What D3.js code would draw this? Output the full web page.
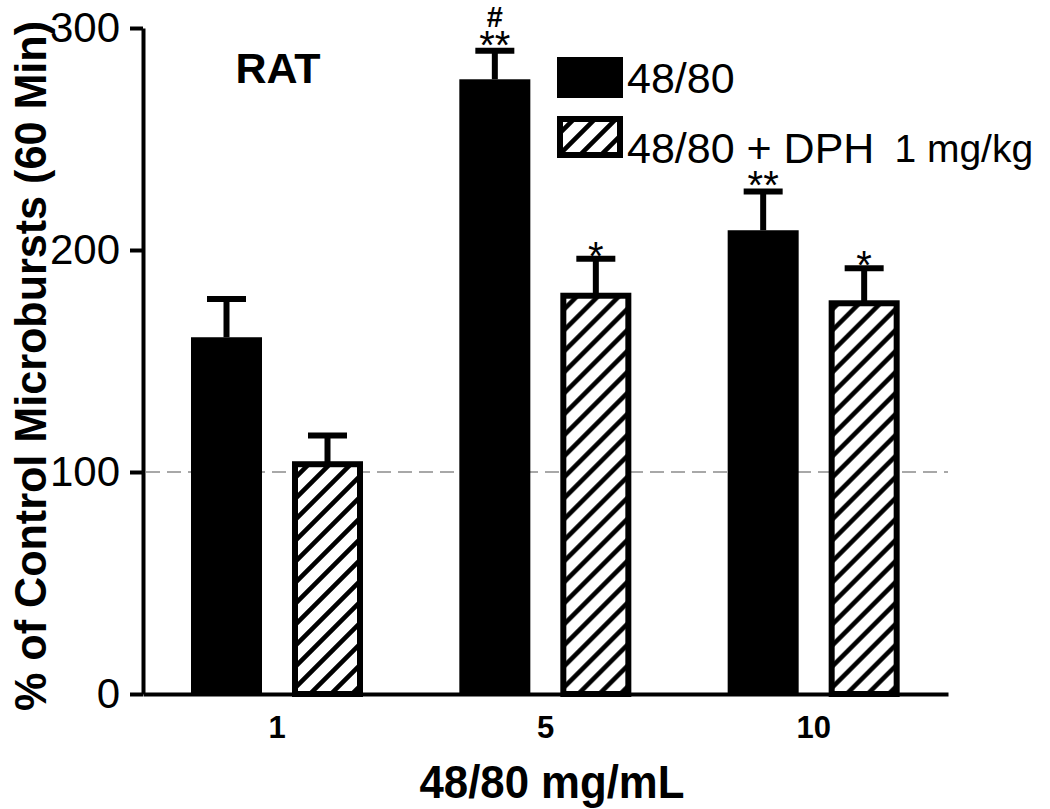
<!DOCTYPE html>
<html>
<head>
<meta charset="utf-8">
<script src="https://cdn.jsdelivr.net/npm/d3@7"></script>
<style>
  html, body { margin: 0; padding: 0; background: #fff; }
  svg { display: block; }
  text { font-family: "Liberation Sans", Arial, sans-serif; fill: #000; }
</style>
</head>
<body>
<svg id="chart" width="1050" height="809"></svg>
<script>
// ---- data ----
const categories = ["1", "5", "10"];
const seriesNames = ["48/80", "48/80 + DPH"];
const doseNote = "1 mg/kg";
const values4880 = [160.7, 276.9, 208.9];
const errors4880 = [177.9, 289.8, 226.4];
const valuesDPH = [103.5, 179.4, 176.0];
const errorsDPH = [116.4, 196.1, 191.8];
const signif4880 = ["", "**", "**"];
const hash4880 = ["", "#", ""];
const signifDPH = ["", "*", "*"];
const yTicks = [0, 100, 200, 300];
const refValue = 100;

const svg = d3.select("#chart");

// hatch pattern
const defs = svg.append("defs");
const pat = defs.append("pattern")
  .attr("id", "hatch")
  .attr("patternUnits", "userSpaceOnUse")
  .attr("width", 21).attr("height", 21);
pat.append("rect").attr("width", 21).attr("height", 21).attr("fill", "#fff");
pat.append("path")
  .attr("d", "M-5,5 L5,-5 M0,21 L21,0 M16,26 L26,16")
  .attr("stroke", "#000").attr("stroke-width", 4.6);

const y = d3.scaleLinear().domain([0, 300]).range([694, 28]);
const x = d3.scaleBand().domain(categories).range([143, 948]).padding(0);
const xs = d3.scaleBand().domain(seriesNames).range([48, 220]).paddingInner(0.297).paddingOuter(0);

// reference line
svg.append("line")
  .attr("x1", 146).attr("x2", 948)
  .attr("y1", y(refValue)).attr("y2", y(refValue))
  .attr("stroke", "#a8a8a8").attr("stroke-width", 2)
  .attr("stroke-dasharray", "14,7");

const rows = categories.map((c, i) => ({
  cat: c,
  v1: values4880[i], e1: errors4880[i], s1: signif4880[i], h1: hash4880[i],
  v2: valuesDPH[i], e2: errorsDPH[i], s2: signifDPH[i]
}));

const bw = xs.bandwidth();
const capHalf = 19.5;
const sw = 6;

const g = svg.append("g").selectAll("g").data(rows).join("g")
  .attr("transform", d => `translate(${x(d.cat)},0)`);

function errBar(sel, cx, top, val) {
  sel.append("line").attr("x1", cx).attr("x2", cx)
    .attr("y1", top).attr("y2", y(val))
    .attr("stroke", "#000").attr("stroke-width", sw);
  sel.append("line").attr("x1", cx - capHalf).attr("x2", cx + capHalf)
    .attr("y1", top).attr("y2", top)
    .attr("stroke", "#000").attr("stroke-width", sw);
}
g.each(function(d) {
  const s = d3.select(this);
  const c1 = xs("48/80") + bw / 2;
  const c2 = xs("48/80 + DPH") + bw / 2;
  errBar(s, c1, y(d.e1), d.v1);
  errBar(s, c2, y(d.e2), d.v2);
});

g.append("rect")
  .attr("x", xs("48/80"))
  .attr("width", bw)
  .attr("y", d => y(d.v1))
  .attr("height", d => y(0) - y(d.v1))
  .attr("fill", "#000");

g.append("rect")
  .attr("x", xs("48/80 + DPH") + sw / 2)
  .attr("width", bw - sw)
  .attr("y", d => y(d.v2))
  .attr("height", d => y(0) - y(d.v2))
  .attr("fill", "url(#hatch)")
  .attr("stroke", "#000").attr("stroke-width", sw);

// significance markers (hash line above the asterisks, in one text block)
const sig1 = g.append("text")
  .attr("text-anchor", "middle");
sig1.each(function(d) {
  const t = d3.select(this);
  const cx = xs("48/80") + bw / 2;
  if (d.h1) {
    t.append("tspan").attr("x", cx).attr("y", y(d.e1) - 24)
      .style("font-size", "29px").style("font-weight", "bold").text(d.h1);
  }
  t.append("tspan").attr("x", cx).attr("y", y(d.e1) + 8)
    .style("font-size", "40px").text(d.s1);
});
g.append("text")
  .attr("x", xs("48/80 + DPH") + bw / 2)
  .attr("y", d => y(d.e2) + 11)
  .attr("text-anchor", "middle")
  .style("font-size", "40px")
  .text(d => d.s2);

// axes
const yAxis = d3.axisLeft(y).tickValues(yTicks).tickSize(13).tickSizeOuter(0).tickPadding(10);
const yg = svg.append("g").attr("transform", "translate(143,0)").call(yAxis);
yg.select(".domain").attr("stroke-width", 4).attr("stroke", "#000");
yg.selectAll(".tick line").attr("stroke-width", 4).attr("stroke", "#000");
yg.selectAll(".tick text").style("font-size", "42px").style("font-family", "Liberation Sans, Arial, sans-serif");

const xAxis = d3.axisBottom(x).tickSize(0).tickSizeOuter(0).tickPadding(22);
const xg = svg.append("g").attr("transform", `translate(0,${y(0)})`).call(xAxis);
xg.select(".domain").attr("stroke-width", 4).attr("stroke", "#000");
xg.selectAll(".tick text").style("font-size", "31px").style("font-weight", "bold")
  .style("font-family", "Liberation Sans, Arial, sans-serif");

// axis titles
svg.append("text")
  .attr("transform", "translate(46,366) rotate(-90)")
  .attr("text-anchor", "middle")
  .style("font-size", "44px").style("font-weight", "bold")
  .attr("textLength", 690).attr("lengthAdjust", "spacingAndGlyphs")
  .text("% of Control Microbursts (60 Min)");

svg.append("text")
  .attr("x", 552).attr("y", 798)
  .attr("text-anchor", "middle")
  .style("font-size", "46px").style("font-weight", "bold")
  .attr("textLength", 265).attr("lengthAdjust", "spacingAndGlyphs")
  .text("48/80 mg/mL");

svg.append("text")
  .attr("x", 278).attr("y", 83)
  .attr("text-anchor", "middle")
  .style("font-size", "43px").style("font-weight", "bold")
  .text("RAT");

// legend
const leg = svg.append("g");
leg.append("rect").attr("x", 557).attr("y", 57).attr("width", 66).attr("height", 41).attr("fill", "#000");
leg.append("rect").attr("x", 560).attr("y", 119).attr("width", 60).attr("height", 36)
  .attr("fill", "url(#hatch)").attr("stroke", "#000").attr("stroke-width", sw);
leg.append("text").attr("x", 627).attr("y", 93).style("font-size", "43px").text(seriesNames[0]);
const l2 = leg.append("text").attr("x", 627).attr("y", 163).style("font-size", "43px");
l2.append("tspan").text(seriesNames[1]);
l2.append("tspan").attr("dx", 20).attr("dy", -1).style("font-size", "39px").text(doseNote);
</script>
</body>
</html>
